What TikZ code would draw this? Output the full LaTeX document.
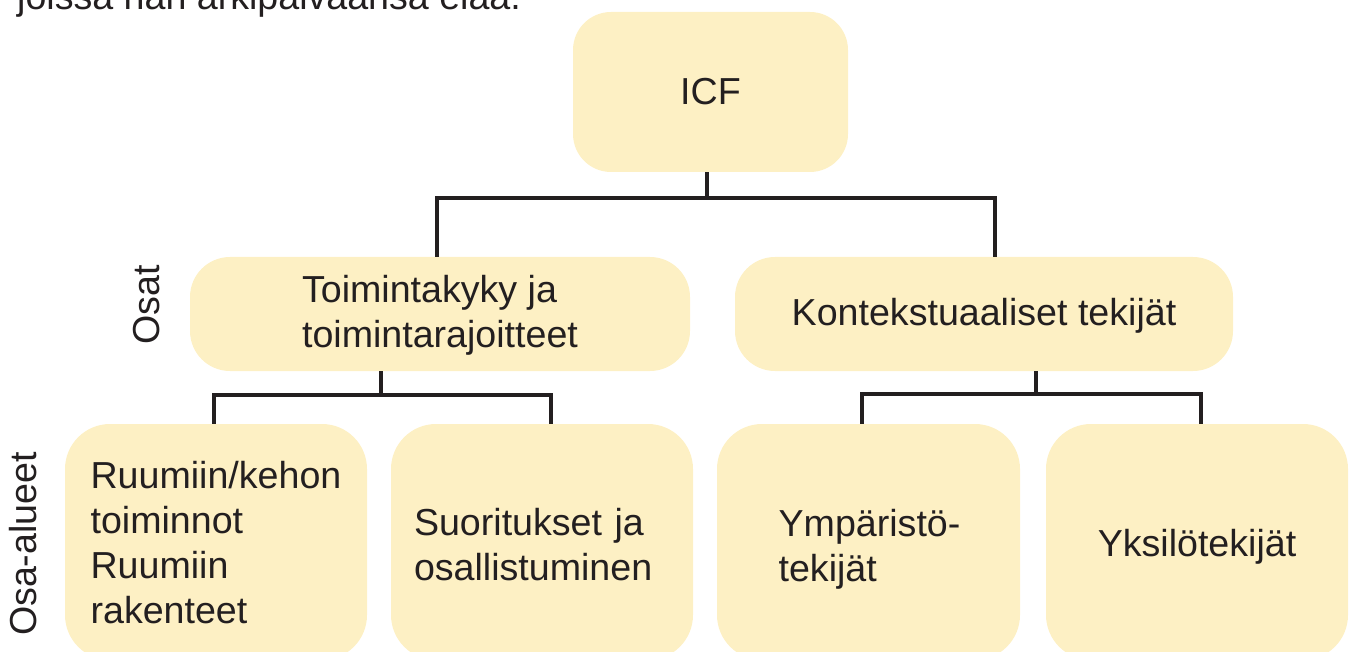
\documentclass[tikz,border=0pt]{standalone}
\usepackage{fontspec}
\setmainfont{Liberation Sans}
\definecolor{boxfill}{RGB}{253,240,196}
\definecolor{ink}{RGB}{35,31,32}
\begin{document}
\begin{tikzpicture}[x=1pt,y=-1pt,
  every node/.style={text=ink, font=\fontsize{37.6pt}{45pt}\selectfont},
  box/.style={fill=boxfill, draw=none, inner sep=0pt},
  midbox/.style={box, minimum height=114pt, rounded corners=40pt},
  lowbox/.style={box, minimum width=302pt, minimum height=236pt, rounded corners=45pt},
  lbl/.style={inner sep=0pt, align=left},
  conn/.style={draw=ink, line width=3.5pt}]
\useasboundingbox (0,0) rectangle (1349,652);
\clip (0,0) rectangle (1349,652);

% lead-in sentence running off the top edge
\node[anchor=base west, inner sep=0pt] (intro) at (17,10) {joissa hän arkipäiväänsä elää.};

% boxes
\node[box, minimum width=275pt, minimum height=160pt, rounded corners=38pt] (icf) at (710.5,92) {};
\node[midbox, minimum width=500pt] (toim) at (440,314) {};
\node[midbox, minimum width=498pt] (kont) at (984,314) {};
\node[lowbox] (ruum) at (216,542) {};
\node[lowbox] (suor) at (542,542) {};
\node[lowbox, minimum width=303pt] (ymp) at (868.5,542) {};
\node[lowbox] (yks) at (1197,542) {};

% box texts
\node[lbl] (icf-t) at (icf) {ICF};
\node[lbl, yshift=-1pt] (toim-t) at (toim) {Toimintakyky ja\\toimintarajoitteet};
\node[lbl, yshift=-2pt] (kont-t) at (kont) {Kontekstuaaliset tekijät};
\node[lbl, yshift=-1pt] (ruum-t) at (ruum) {Ruumiin/kehon\\toiminnot\\Ruumiin\\rakenteet};
\node[lbl, text width=256pt, yshift=-3pt] (suor-t) at (suor) {Suoritukset ja\\osallistuminen};
\node[lbl, xshift=1pt, yshift=-7pt] (ymp-t) at (ymp) {Ympäristö-\\tekijät};
\node[lbl, yshift=-5pt] (yks-t) at (yks) {Yksilötekijät};

% row labels
\node[rotate=90, inner sep=0pt] (osat) at (147,305) {Osat};
\node[rotate=90, inner sep=0pt] (osaal) at (23,544) {Osa-alueet};

% tree connectors
\coordinate (j1) at (707,198);
\coordinate (j2) at (381,395);
\coordinate (j3) at (1036,394);
\draw[conn] (icf.south -| j1) -- (j1);
\draw[conn] ([xshift=-3pt]toim.north) |- (j1) -| ([xshift=11pt]kont.north);
\draw[conn] (toim.south -| j2) -- (j2);
\draw[conn] ([xshift=-2pt]ruum.north) |- (j2) -| ([xshift=9pt]suor.north);
\draw[conn] (kont.south -| j3) -- (j3);
\draw[conn] ([xshift=-6.5pt]ymp.north) |- (j3) -| ([xshift=4pt]yks.north);
\end{tikzpicture}
\end{document}
